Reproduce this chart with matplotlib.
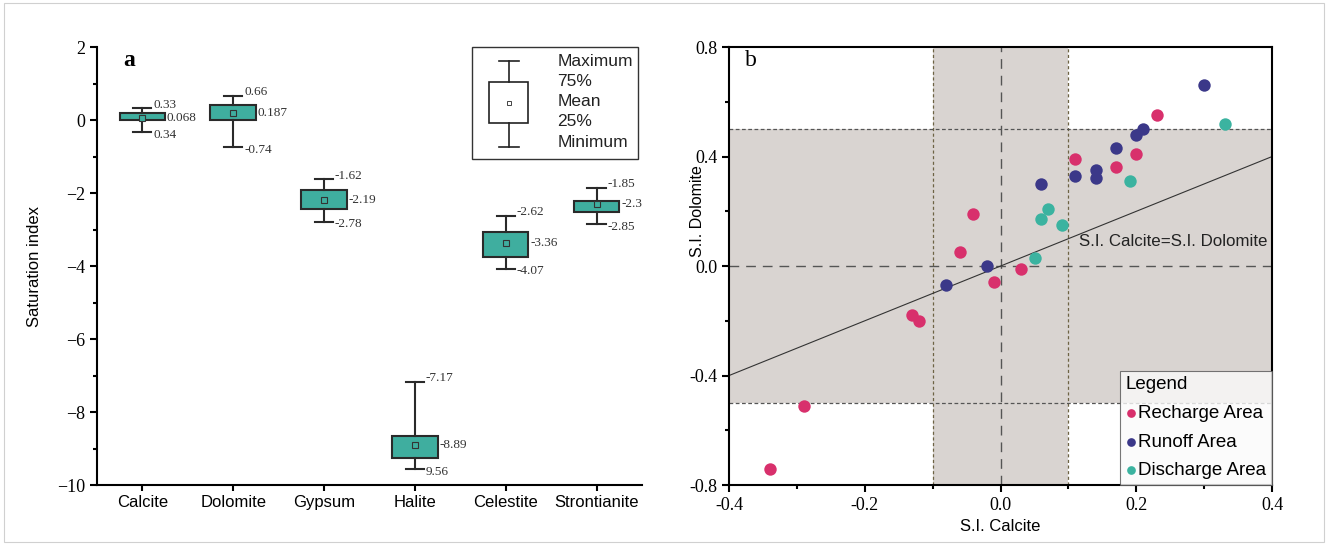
import matplotlib
matplotlib.use("Agg")
import matplotlib.pyplot as plt
import matplotlib.ticker as ticker
from matplotlib.patches import Rectangle
from matplotlib.lines import Line2D
from matplotlib.transforms import offset_copy

# ── Data ──────────────────────────────────────────────────────────────────────
minerals = ["Calcite", "Dolomite", "Gypsum", "Halite", "Celestite", "Strontianite"]
si_max  = [0.33, 0.66, -1.62, -7.17, -2.62, -1.85]
si_q3   = [0.19, 0.42, -1.92, -8.66, -3.06, -2.22]
si_mean = [0.068, 0.187, -2.19, -8.89, -3.36, -2.30]
si_q1   = [-0.01, 0.00, -2.44, -9.25, -3.74, -2.51]
si_min  = [-0.34, -0.74, -2.78, -9.56, -4.07, -2.85]
lbl_max  = ["0.33", "0.66", "-1.62", "-7.17", "-2.62", "-1.85"]
lbl_mean = ["0.068", "0.187", "-2.19", "-8.89", "-3.36", "-2.3"]
lbl_min  = ["0.34", "-0.74", "-2.78", "9.56", "-4.07", "-2.85"]

recharge_x = [0.23, 0.20, 0.11, 0.17, -0.04, -0.06, 0.03, -0.01, -0.13, -0.12, -0.29, -0.34]
recharge_y = [0.55, 0.41, 0.39, 0.36, 0.19, 0.05, -0.01, -0.06, -0.18, -0.20, -0.51, -0.74]
runoff_x = [0.30, 0.21, 0.20, 0.17, 0.14, 0.11, 0.14, 0.06, -0.02, -0.08]
runoff_y = [0.66, 0.50, 0.48, 0.43, 0.35, 0.33, 0.32, 0.30, 0.00, -0.07]
discharge_x = [0.33, 0.19, 0.07, 0.06, 0.09, 0.05]
discharge_y = [0.52, 0.31, 0.21, 0.17, 0.15, 0.03]

# ── Style ─────────────────────────────────────────────────────────────────────
C_BOX   = "#3fae9f"
C_EDGE  = "#2a2a2a"
C_PINK  = "#d8306c"
C_NAVY  = "#3b3889"
C_TEAL  = "#3bb3a0"
C_SHADE = "#d9d4d1"
SERIF = "Liberation Serif"
SANS  = "Liberation Sans"

fig = plt.figure(figsize=(13.28, 5.47), dpi=100)
ax1 = fig.add_axes([0.073, 0.1133, 0.4104, 0.8007])
ax2 = fig.add_axes([0.549, 0.1133, 0.4089, 0.8007])
fig.patches.append(Rectangle((0.003, 0.01), 0.994, 0.985, transform=fig.transFigure,
                             fill=False, edgecolor="#d0d0d0", linewidth=0.8))

# ── Panel a: box plot ─────────────────────────────────────────────────────────
stats = []
for name, lo, q1, mu, q3, hi in zip(minerals, si_min, si_q1, si_mean, si_q3, si_max):
    stats.append({"label": name, "whislo": lo, "q1": q1, "med": mu,
                  "q3": q3, "whishi": hi, "mean": mu, "fliers": []})
pos = list(range(1, len(minerals) + 1))
ax1.bxp(stats, positions=pos, widths=0.5, patch_artist=True, showmeans=True,
        boxprops=dict(facecolor=C_BOX, edgecolor=C_EDGE, linewidth=1.5),
        whiskerprops=dict(color=C_EDGE, linewidth=1.5),
        capprops=dict(color=C_EDGE, linewidth=1.5),
        medianprops=dict(linewidth=0),
        meanprops=dict(marker="s", markersize=4, markerfacecolor=C_BOX,
                       markeredgecolor="#333333", markeredgewidth=0.8),
        capwidths=0.2)
up = offset_copy(ax1.transData, fig=fig, x=0, y=2.5, units="points")
dn = offset_copy(ax1.transData, fig=fig, x=0, y=-2, units="points")
for p, hi, mu, lo, a, b, c in zip(pos, si_max, si_mean, si_min, lbl_max, lbl_mean, lbl_min):
    kw = dict(va="center", ha="left", fontsize=9.5, family=SERIF, color="#333333")
    ax1.text(p + 0.12, hi, a, transform=up, **kw)
    ax1.text(p + 0.27, mu, b, **kw)
    ax1.text(p + 0.12, lo, c, transform=dn, **kw)

ax1.set_xlim(0.5, 6.5)
ax1.set_ylim(-10, 2)
ax1.set_xticks(pos)
ax1.set_xticklabels(minerals, family=SANS, fontsize=12)
ax1.yaxis.set_major_locator(ticker.MultipleLocator(2))
ax1.yaxis.set_minor_locator(ticker.MultipleLocator(1))
ax1.tick_params(axis="y", labelsize=13, width=1.5, length=5, labelfontfamily=SERIF)
ax1.tick_params(axis="y", which="minor", width=1.5, length=3)
ax1.tick_params(axis="x", width=1.5, length=4)
ax1.set_ylabel("Saturation index", family=SANS, fontsize=12)
ax1.yaxis.set_label_coords(-0.10, 0.5)
for side in ("top", "right"):
    ax1.spines[side].set_visible(False)
for side in ("left", "bottom"):
    ax1.spines[side].set_linewidth(1.5)
ax1.text(0.048, 0.97, "a", transform=ax1.transAxes, fontsize=17, fontweight="bold",
         family=SERIF, va="center")

# key box
T = ax1.transAxes
ax1.add_patch(Rectangle((0.688, 0.745), 0.305, 0.255, transform=T, fill=False,
                        edgecolor="#333333", linewidth=1.0, clip_on=False))
kx = 0.756
ax1.add_patch(Rectangle((0.720, 0.826), 0.070, 0.094, transform=T, fill=False,
                        edgecolor="#222222", linewidth=1.2))
for y0, y1 in ((0.920, 0.967), (0.771, 0.826)):
    ax1.add_line(Line2D([kx, kx], [y0, y1], transform=T, color="#222222", lw=1.2))
for y in (0.967, 0.771):
    ax1.add_line(Line2D([kx - 0.018, kx + 0.018], [y, y], transform=T, color="#222222", lw=1.2))
ax1.plot([kx], [0.873], transform=T, marker="s", ms=3.5, mfc="white", mec="#444444", mew=0.7)
for y, s in zip((0.968, 0.922, 0.876, 0.829, 0.781),
                ("Maximum", "75%", "Mean", "25%", "Minimum")):
    ax1.text(0.845, y, s, transform=T, family=SANS, fontsize=12.5, va="center", color="#222222")

# ── Panel b: scatter ──────────────────────────────────────────────────────────
ax2.set_xlim(-0.4, 0.4)
ax2.set_ylim(-0.8, 0.8)
ax2.axvspan(-0.1, 0.1, color=C_SHADE, lw=0, zorder=0)
ax2.axhspan(-0.5, 0.5, color=C_SHADE, lw=0, zorder=0)
for v in (-0.1, 0.1):
    ax2.axvline(v, color="#6d6344", lw=0.9, dashes=(2.5, 2), zorder=1)
for v in (-0.5, 0.5):
    ax2.axhline(v, color="#555555", lw=0.9, dashes=(3, 2), zorder=1)
ax2.axvline(0, color="#555555", lw=1.0, dashes=(7, 5), zorder=1)
ax2.axhline(0, color="#555555", lw=1.0, dashes=(7, 5), zorder=1)
ax2.axline((0, 0), slope=1, color="#333333", lw=0.8, zorder=2)
ax2.text(0.116, 0.09, "S.I. Calcite=S.I. Dolomite", family=SANS, fontsize=12.2,
         color="#222222", va="center", ha="left")

ax2.scatter(recharge_x, recharge_y, s=80, color=C_PINK, lw=0, zorder=3, label="Recharge Area")
ax2.scatter(runoff_x, runoff_y, s=80, color=C_NAVY, lw=0, zorder=3, label="Runoff Area")
ax2.scatter(discharge_x, discharge_y, s=80, color=C_TEAL, lw=0, zorder=3, label="Discharge Area")

leg = ax2.legend(loc="lower right", title="Legend", frameon=True, fancybox=False,
                 prop={"family": SANS, "size": 13.5},
                 title_fontproperties={"family": SANS, "size": 13.5},
                 markerscale=0.7, handletextpad=0.1, handlelength=0.6, labelspacing=0.62,
                 borderaxespad=0, borderpad=0.3)
leg._legend_box.align = "left"
leg.get_frame().set_edgecolor("#555555")
leg.get_frame().set_facecolor("#fafafa")
leg.get_frame().set_linewidth(0.8)

ax2.xaxis.set_major_locator(ticker.MultipleLocator(0.2))
ax2.xaxis.set_minor_locator(ticker.MultipleLocator(0.1))
ax2.yaxis.set_major_locator(ticker.MultipleLocator(0.4))
ax2.yaxis.set_minor_locator(ticker.MultipleLocator(0.2))
ax2.xaxis.set_major_formatter(ticker.FormatStrFormatter("%.1f"))
ax2.yaxis.set_major_formatter(ticker.FormatStrFormatter("%.1f"))
ax2.tick_params(which="major", labelsize=13, width=1.5, length=5, labelfontfamily=SERIF)
ax2.tick_params(which="minor", width=1.5, length=3)
for s in ax2.spines.values():
    s.set_linewidth(1.5)
ax2.set_xlabel("S.I. Calcite", family=SANS, fontsize=12)
ax2.set_ylabel("S.I. Dolomite", family=SANS, fontsize=11.5)
ax2.yaxis.set_label_coords(-0.045, 0.626)
ax2.text(0.03, 0.97, "b", transform=ax2.transAxes, fontsize=17, family=SERIF, va="center")

fig.savefig("out.png", dpi=100, facecolor="white")
